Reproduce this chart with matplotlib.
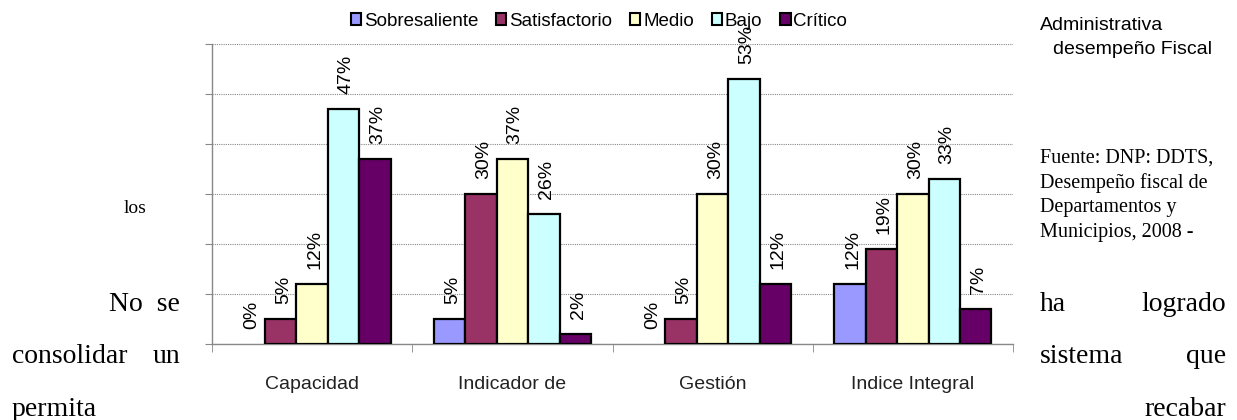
import matplotlib
matplotlib.use("Agg")
import matplotlib.pyplot as plt
from matplotlib.patches import Patch
import numpy as np

categories = ["Capacidad", "Indicador de", "Gestión", "Indice Integral"]
series_names = ["Sobresaliente", "Satisfactorio", "Medio", "Bajo", "Crítico"]
sobresaliente = [0, 5, 0, 12]
satisfactorio = [5, 30, 5, 19]
medio = [12, 37, 30, 30]
bajo = [47, 26, 53, 33]
critico = [37, 2, 12, 7]
series_values = [sobresaliente, satisfactorio, medio, bajo, critico]
colors = ["#9999FF", "#993366", "#FFFFCC", "#CCFFFF", "#660066"]

W, H = 1237, 420
fig = plt.figure(figsize=(W / 100, H / 100), dpi=100)
fig.patch.set_facecolor("white")

def fx(px):
    return px / W

def fy(py):
    return 1 - py / H

ax = fig.add_axes([fx(212), fy(344), fx(1013) - fx(212), fy(44) - fy(344)])
ax.set_xlim(-0.5, len(categories) - 0.5)
ax.set_ylim(0, 60)

bw = 0.157
x = np.arange(len(categories))
for j, (name, vals, c) in enumerate(zip(series_names, series_values, colors)):
    pos = x + (j - 2) * bw
    lws = [1.6 if v > 0 else 0 for v in vals]
    ax.bar(pos, vals, width=bw, color=c, edgecolor="black", linewidth=lws, zorder=3)
    for p, v in zip(pos, vals):
        ax.annotate(f"{v}%", xy=(p, v), xytext=(2, 11), textcoords="offset points",
                    rotation=90, ha="center", va="bottom", fontsize=14,
                    family="Liberation Sans", color="black", annotation_clip=False, zorder=4)

ax.set_yticks(np.arange(0, 61, 10))
ax.yaxis.grid(True, linestyle=(0, (1, 1)), color="#888888", linewidth=0.8, zorder=0)
ax.tick_params(axis="y", which="major", length=5, color="#888888", labelleft=False, direction="out")
ax.set_xticks(x)
ax.set_xticklabels(categories, fontsize=14, family="Liberation Sans", color="#222222")
ax.set_xticks(np.arange(-0.5, len(categories), 1), minor=True)
ax.tick_params(axis="x", which="major", length=0, pad=23)
ax.tick_params(axis="x", which="minor", length=6, color="#888888", direction="out")
for s in ["top", "right"]:
    ax.spines[s].set_visible(False)
for s in ["left", "bottom"]:
    ax.spines[s].set_color("#888888")
    ax.spines[s].set_linewidth(1.0)

handles = [Patch(facecolor=c, edgecolor="black", linewidth=1.5) for c in colors]
fig.legend(handles, series_names, loc="center", bbox_to_anchor=(fx(599), fy(21)),
           ncol=5, frameon=False, prop={"family": "Liberation Sans", "size": 13.5},
           handlelength=0.55, handleheight=0.55, handletextpad=0.15, columnspacing=0.95,
           borderpad=0, borderaxespad=0)

sans = "Liberation Sans"
serif = "Liberation Serif"
fig.text(fx(1040), fy(25), "Administrativa", fontsize=14, family=sans, ha="left", va="center")
fig.text(fx(1053), fy(50), "desempeño Fiscal", fontsize=14, family=sans, ha="left", va="center")
src_lines = ["Fuente: DNP: DDTS,", "Desempeño fiscal de", "Departamentos y", "Municipios, 2008 -"]
for i, line in enumerate(src_lines):
    fig.text(fx(1040), fy(158 + i * 24.7), line, fontsize=14.5, family=serif, ha="left", va="center")

fig.text(fx(124), fy(213), "los", fontsize=14, family=serif, ha="left", va="baseline")

big = 20
fig.text(fx(180), fy(311), "No  se", fontsize=big, family=serif, ha="right", va="baseline")
fig.text(fx(12), fy(363), "consolidar", fontsize=big, family=serif, ha="left", va="baseline")
fig.text(fx(180), fy(363), "un", fontsize=big, family=serif, ha="right", va="baseline")
fig.text(fx(12), fy(416), "permita", fontsize=big, family=serif, ha="left", va="baseline")
fig.text(fx(1040), fy(311), "ha", fontsize=big, family=serif, ha="left", va="baseline")
fig.text(fx(1226), fy(311), "logrado", fontsize=big, family=serif, ha="right", va="baseline")
fig.text(fx(1040), fy(363), "sistema", fontsize=big, family=serif, ha="left", va="baseline")
fig.text(fx(1226), fy(363), "que", fontsize=big, family=serif, ha="right", va="baseline")
fig.text(fx(1226), fy(416), "recabar", fontsize=big, family=serif, ha="right", va="baseline")

fig.savefig("out.png", dpi=100, facecolor="white")
